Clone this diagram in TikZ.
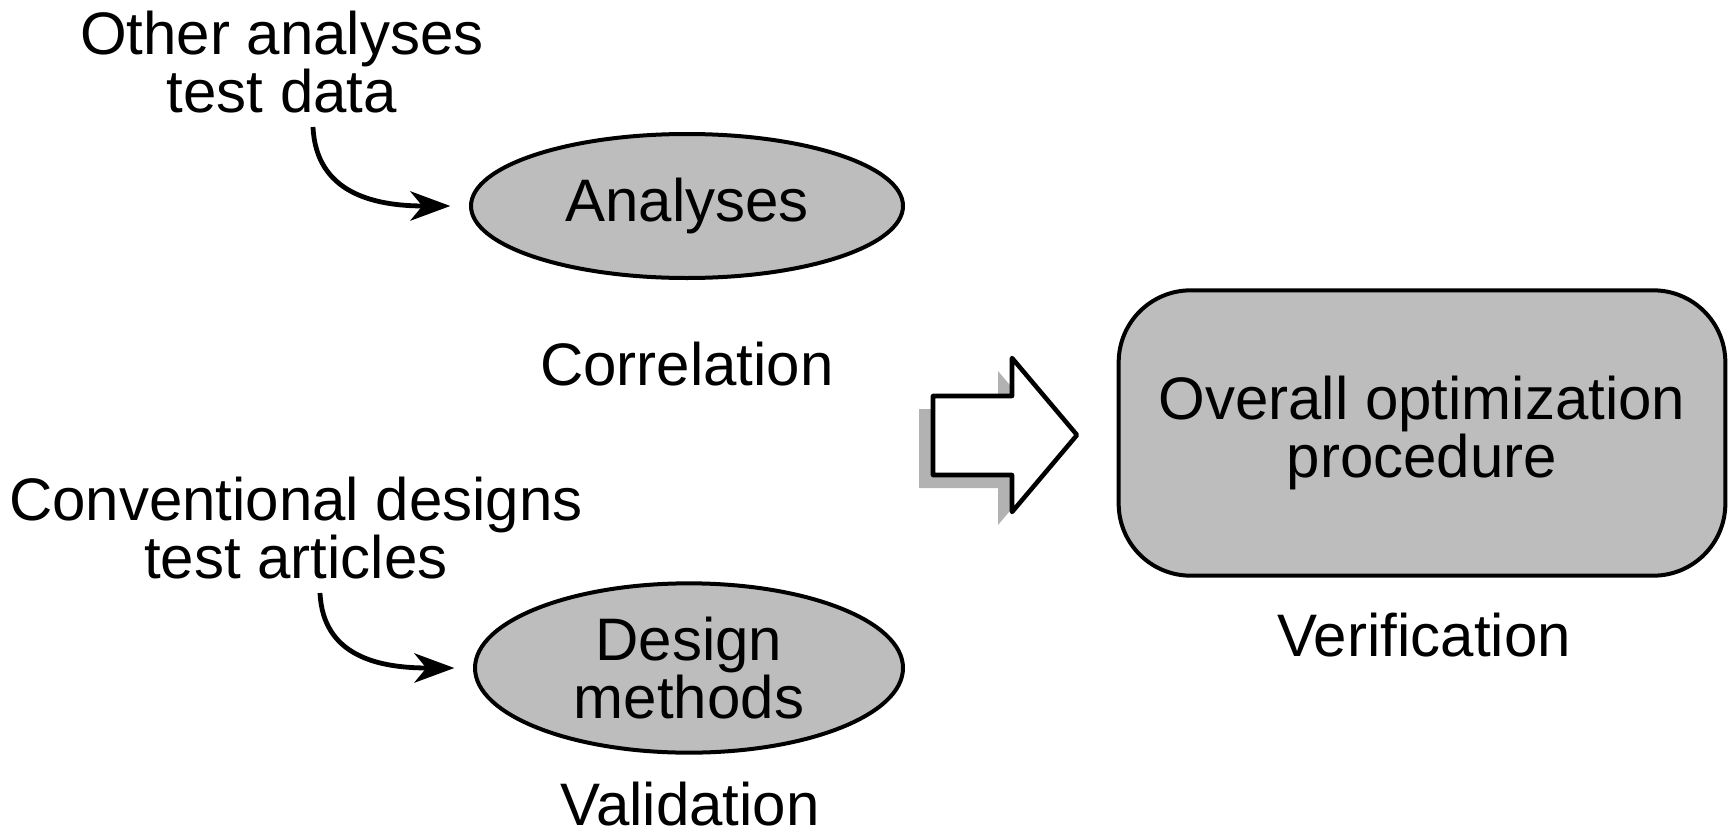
\documentclass[tikz,border=0pt]{standalone}
\usepackage{fontspec}
\setmainfont{Liberation Sans}
\usetikzlibrary{shapes.geometric,arrows.meta}

\tikzset{
  halftone/.style={fill=black!26},
  blob/.style={ellipse,draw,line width=3pt,halftone,inner sep=0pt,align=center},
  panel/.style={draw,line width=3pt,halftone,rounded corners=54pt,align=center,
    minimum width=455pt,minimum height=214pt},
  lbl/.style={align=center,inner sep=0.75pt},
  curly/.style={line width=3.6pt,-{Stealth[length=30pt,width=22pt,inset=9pt]},shorten >=14pt},
}

\begin{document}
\begin{tikzpicture}[x=0.75pt,y=0.75pt,yscale=-1,xscale=1,font=\fontsize{45}{43}\selectfont]
\useasboundingbox (0,0) rectangle (1731,835);

% main shapes
\node (analyses) at (687,206) [blob,minimum width=324pt,minimum height=108pt] {Analyses};
\node (design) at (689,668) [blob,minimum width=321pt,minimum height=127pt] {Design\\methods};
\node (overall) at (1422,433) [panel] {Overall optimization\\procedure};

% labels
\node (other) at (282,62) [lbl] {Other analyses\\test data};
\node (corr) at (687,364) [lbl] {Correlation};
\node (conv) at (296,528) [lbl] {Conventional designs\\test articles};
\node (valid) at (690,804) [lbl] {Validation};
\node (verif) at (1424,635) [lbl] {Verification};

% curved inputs
\coordinate (c1) at (313,127);
\coordinate (c2) at (320,593);
\draw[curly] (c1) .. controls (316,192) and (372,206) .. (analyses.west);
\draw[curly] (c2) .. controls (323,656) and (378,668) .. (design.west);

% big hollow arrow with shadow
\fill[black!30] (919,409) -- (998,409) -- (998,371) -- (1063,448) -- (998,525) -- (998,488) -- (919,488) -- cycle;
\draw[fill=white,line width=3.4pt,line join=round] (933,396) -- (1012,396) -- (1012,358) -- (1077,435) -- (1012,512) -- (1012,475) -- (933,475) -- cycle;
\end{tikzpicture}
\end{document}
